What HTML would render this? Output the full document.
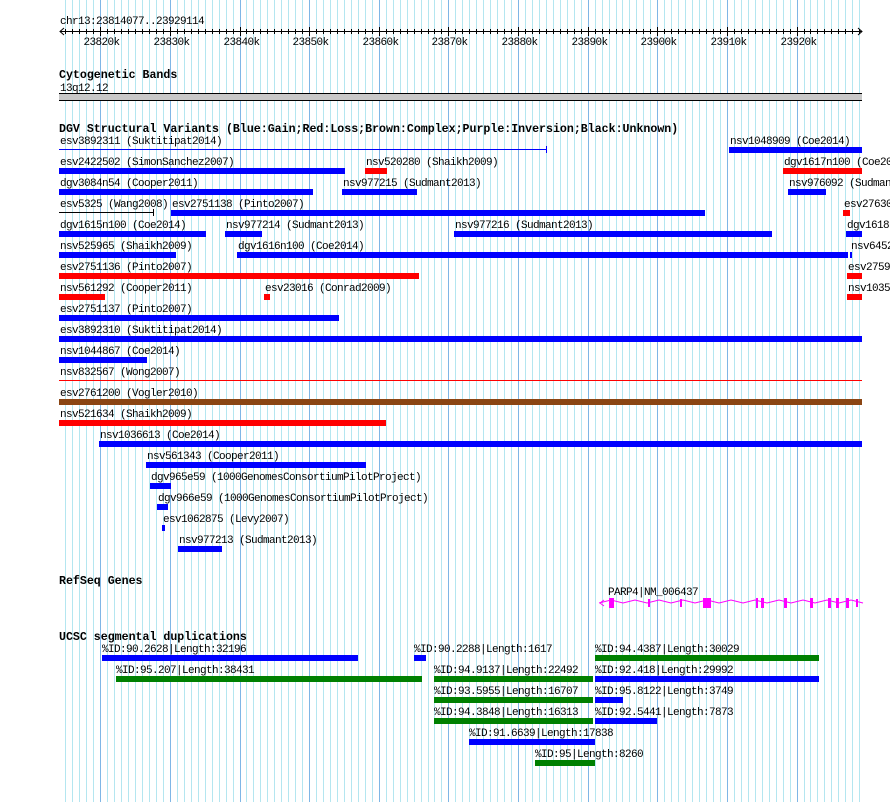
<!DOCTYPE html>
<html><head><meta charset="utf-8"><style>
html,body{margin:0;padding:0;background:#fff;width:890px;height:802px;overflow:hidden}
svg{display:block}
text{font-family:"Liberation Mono",monospace;font-size:11px;letter-spacing:-0.6px;fill:#000}
.b{font-weight:bold;font-size:11.6px;letter-spacing:0}
</style></head><body>
<svg id="s" width="890" height="802" xmlns="http://www.w3.org/2000/svg"></svg>
<script>
var s=document.getElementById('s'),h='';
function X(bp){return 59+(bp-23814077)*801/115037;}
for(var k=23815;k<=23929;k++){var x=X(k*1000);if(x>862)break;
 h+='<line x1="'+(Math.round(x)+.5)+'" y1="0" x2="'+(Math.round(x)+.5)+'" y2="802" stroke="'+(k%10==0?'#7fb6e6':'#b4e6f0')+'" stroke-width="1"/>';}
function T(x,y,t,c){h+='<text x="'+x+'" y="'+y+'"'+(c?' class="'+c+'"':'')+'>'+t+'</text>';}
function R(x1,x2,y,c,hh){h+='<rect x="'+x1+'" y="'+y+'" width="'+(x2-x1)+'" height="'+(hh||6)+'" fill="'+c+'"/>';}
T(60,24,'chr13:23814077..23929114');
h+='<line x1="60" y1="31.5" x2="862" y2="31.5" stroke="#000"/>';
h+='<path d="M64 28 L60 31.5 L64 35 M858 28 L862 31.5 L858 35" stroke="#000" fill="none"/>';
for(var k=23815;k<=23929;k++){var x=Math.round(X(k*1000))+.5;h+='<line x1="'+x+'" y1="'+(k%10==0?27:29)+'" x2="'+x+'" y2="'+(k%10==0?36:34)+'" stroke="#000"/>';
 if(k%10==0)T(x-17,45,k+'k');}
T(59,78,'Cytogenetic Bands','b');T(60,91,'13q12.12');
R(59,862,93,'#000',1);R(59,862,94,'#c8c8c8',6);R(59,862,100,'#000',1);
T(59,132,'DGV Structural Variants (Blue:Gain;Red:Loss;Brown:Complex;Purple:Inversion;Black:Unknown)','b');
var B='#0000ff',Rd='#ff0000';
var rows=[
[[59,547,B,'esv3892311 (Suktitipat2014)',1],[729,862,B,'nsv1048909 (Coe2014)']],
[[59,345,B,'esv2422502 (SimonSanchez2007)'],[365,387,Rd,'nsv520280 (Shaikh2009)'],[783,862,Rd,'dgv1617n100 (Coe2014)']],
[[59,313,B,'dgv3084n54 (Cooper2011)'],[342,417,B,'nsv977215 (Sudmant2013)'],[788,826,B,'nsv976092 (Sudmant2013)']],
[[59,154,B,'esv5325 (Wang2008)',2],[171,705,B,'esv2751138 (Pinto2007)'],[843,850,Rd,'esv2763000']],
[[59,206,B,'dgv1615n100 (Coe2014)'],[225,262,B,'nsv977214 (Sudmant2013)'],[454,772,B,'nsv977216 (Sudmant2013)'],[846,862,B,'dgv1618n100']],
[[59,176,B,'nsv525965 (Shaikh2009)'],[237,848,B,'dgv1616n100 (Coe2014)'],[850,852,B,'nsv645200']],
[[59,419,Rd,'esv2751136 (Pinto2007)'],[847,862,Rd,'esv2759500']],
[[59,105,Rd,'nsv561292 (Cooper2011)'],[264,270,Rd,'esv23016 (Conrad2009)'],[847,862,Rd,'nsv1035000']],
[[59,339,B,'esv2751137 (Pinto2007)']],
[[59,862,B,'esv3892310 (Suktitipat2014)']],
[[59,147,B,'nsv1044867 (Coe2014)']],
[[59,862,Rd,'nsv832567 (Wong2007)',3]],
[[59,862,'#8b4513','esv2761200 (Vogler2010)']],
[[59,386,Rd,'nsv521634 (Shaikh2009)']],
[[99,862,B,'nsv1036613 (Coe2014)']],
[[146,366,B,'nsv561343 (Cooper2011)']],
[[150,171,B,'dgv965e59 (1000GenomesConsortiumPilotProject)']],
[[157,168,B,'dgv966e59 (1000GenomesConsortiumPilotProject)']],
[[162,165,B,'esv1062875 (Levy2007)']],
[[178,222,B,'nsv977213 (Sudmant2013)']]];
rows.forEach(function(r,i){var y=147+21*i;r.forEach(function(f){
 T(f[0]+1,y-3,f[3]);
 if(f[4]==1){R(f[0],f[1],y+2,f[2],1);R(f[1]-1,f[1],y-1,f[2],7);}
 else if(f[4]==2){R(f[0],f[1],y+2,'#000',1);R(f[1]-1,f[1],y-1,'#000',7);}
 else if(f[4]==3){R(f[0],f[1],y+2,f[2],1);}
 else R(f[0],f[1],y,f[2]);});});
T(59,584,'RefSeq Genes','b');
T(608,595,'PARP4|NM_006437');
var zz='M599 603';for(var x=599;x<850;x+=24){zz+=' L'+(x+12)+' 600 L'+(x+24)+' 603';}
h+='<path d="'+zz+'" stroke="#ff00ff" fill="none"/>';
h+='<path d="M600 603 L604 600 M600 603 L604 606" stroke="#ff00ff"/>';
[[609,614,10],[648,650,8],[680,682,8],[703,711,10],[756,758,10],[761,764,10],[784,787,10],[810,813,10],[828,831,10],[836,839,10],[846,849,10],[856,858,8]].forEach(function(e){R(e[0],e[1],603-e[2]/2,'#ff00ff',e[2]);});
T(59,640,'UCSC segmental duplications','b');
var G='#008000';
var sd=[
[[102,358,B,'%ID:90.2628|Length:32196'],[414,426,B,'%ID:90.2288|Length:1617'],[595,819,G,'%ID:94.4387|Length:30029']],
[[116,422,G,'%ID:95.207|Length:38431'],[434,593,G,'%ID:94.9137|Length:22492'],[595,819,B,'%ID:92.418|Length:29992']],
[[434,593,G,'%ID:93.5955|Length:16707'],[595,623,B,'%ID:95.8122|Length:3749']],
[[434,593,G,'%ID:94.3848|Length:16313'],[595,657,B,'%ID:92.5441|Length:7873']],
[[469,595,B,'%ID:91.6639|Length:17838']],
[[535,595,G,'%ID:95|Length:8260']]];
sd.forEach(function(r,i){var y=655+21*i;r.forEach(function(f){T(f[0],y-3,f[3]);R(f[0],f[1],y,f[2]);});});
s.innerHTML=h;
</script>
</body></html>
